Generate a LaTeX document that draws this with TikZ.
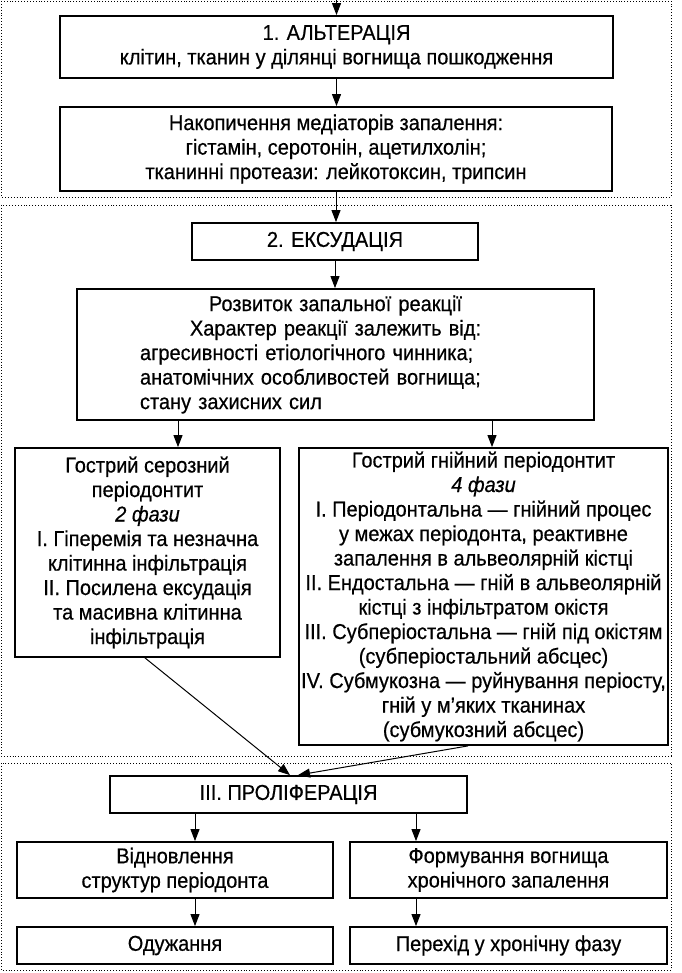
\documentclass[tikz,border=0pt]{standalone}
\usepackage{fontspec}
\setmainfont[FakeStretch=0.93,FakeBold=0.5]{Liberation Sans}
\usetikzlibrary{arrows.meta}
\newcommand\fsz{\fontsize{21.5}{24.5}\selectfont}
\begin{document}
\begin{tikzpicture}[x=1pt,y=-1pt,
  box/.style={draw, line width=1.8pt, inner sep=0pt, align=center, font=\fsz},
  grp/.style={draw, dotted, line width=0.9pt},
  arr/.style={line width=1pt, -{Triangle[length=12pt,width=9pt]}}]
\useasboundingbox (0,0) rectangle (681,973);
% groups
\draw[grp] (1,1) rectangle (671,197);
\draw[grp] (1,205) rectangle (671,756);
\draw[grp] (1,763) rectangle (671,970);
% nodes
\node[box, minimum width=553pt, minimum height=62pt] (b1) at (336.5,47)
  {1. АЛЬТЕРАЦІЯ\\клітин, тканин у ділянці вогнища пошкодження};
\node[box, minimum width=552pt, minimum height=84pt] (b2) at (336,149)
  {Накопичення медіаторів запалення:\\гістамін, серотонін, ацетилхолін;\\тканинні протеази: лейкотоксин, трипсин};
\node[box, minimum width=286pt, minimum height=37pt] (b3) at (335,241.5)
  {2. ЕКСУДАЦІЯ};
\node[box, minimum width=517pt, minimum height=131pt, text width=517pt, align=left] (b4) at (335.5,354.5)
  {\centering Розвиток запальної реакції\\Характер реакції залежить від:\par
   \raggedright\leftskip=63pt агресивності етіологічного чинника;\\анатомічних особливостей вогнища;\\стану захисних сил\par};
\node[box, minimum width=265pt, minimum height=209pt] (lb) at (147.5,552.5)
  {Гострий серозний\\періодонтит\\\textit{2 фази}\\І. Гіперемія та незначна\\клітинна інфільтрація\\ІІ. Посилена ексудація\\та масивна клітинна\\інфільтрація};
\node[box, minimum width=369pt, minimum height=297pt] (rb) at (483.5,596.5)
  {Гострий гнійний періодонтит\\\textit{4 фази}\\І. Періодонтальна — гнійний процес\\у межах періодонта, реактивне\\запалення в альвеолярній кістці\\ІІ. Ендостальна — гній в альвеолярній\\кістці з інфільтратом окістя\\ІІІ. Субперіостальна — гній під окістям\\(субперіостальний абсцес)\\IV. Субмукозна — руйнування періосту,\\гній у м’яких тканинах\\(субмукозний абсцес)};
\node[box, minimum width=357pt, minimum height=37pt] (b5) at (288.5,794.5)
  {ІІІ. ПРОЛІФЕРАЦІЯ};
\node[box, minimum width=316pt, minimum height=56pt] (b6) at (175,870)
  {Відновлення\\структур періодонта};
\node[box, minimum width=317pt, minimum height=56pt] (b7) at (508.5,870)
  {Формування вогнища\\хронічного запалення};
\node[box, minimum width=316pt, minimum height=37pt] (b8) at (175,945.5)
  {Одужання};
\node[box, minimum width=317pt, minimum height=37pt] (b9) at (508.5,945.5)
  {Перехід у хронічну фазу};
% connectors
\coordinate (top) at (336.5,0);
\draw[arr] (top) -- (b1.north);
\draw[arr] (b1.south) -- (b1.south |- b2.north);
\draw[arr] (b2.south) -- (b2.south |- b3.north);
\draw[arr] (b3.south) -- (b3.south |- b4.north);
\draw[arr] ([xshift=30.5pt]lb.north |- b4.south) -- ([xshift=30.5pt]lb.north);
\draw[arr] ([xshift=8.5pt]rb.north |- b4.south) -- ([xshift=8.5pt]rb.north);
\draw[arr] ([xshift=-2.5pt]lb.south) -- ([xshift=1.5pt]b5.north);
\draw[arr] ([xshift=-15.5pt]rb.south) -- ([xshift=9.5pt]b5.north);
\draw[arr] ([xshift=20pt]b6.north |- b5.south) -- ([xshift=20pt]b6.north);
\draw[arr] ([xshift=-92.5pt]b7.north |- b5.south) -- ([xshift=-92.5pt]b7.north);
\draw[arr] ([xshift=20pt]b6.south) -- ([xshift=20pt]b8.north);
\draw[arr] ([xshift=-92.5pt]b7.south) -- ([xshift=-92.5pt]b9.north);
\end{tikzpicture}
\end{document}
